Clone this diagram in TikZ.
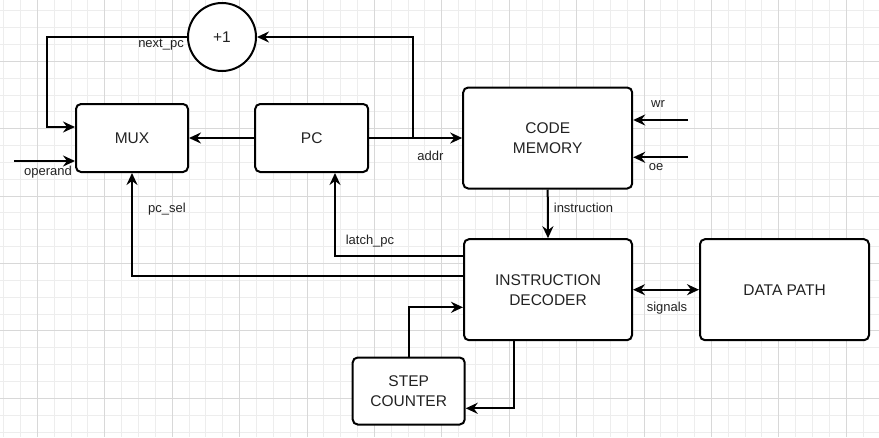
\documentclass[tikz,border=0pt]{standalone}
\usepackage{fontspec}
\setmainfont{Liberation Sans}
\usepackage{xcolor}
\usepackage{tikz}
\usetikzlibrary{arrows.meta}
\definecolor{gridminor}{HTML}{EDEDED}
\definecolor{gridmajor}{HTML}{D8D8D8}
\definecolor{txt}{HTML}{222222}

\begin{document}
\begin{tikzpicture}[x=1pt,y=-1pt,
    block/.style={draw=black,line width=2pt,rounded corners=5pt,fill=white,align=center,text=txt,inner sep=0pt,font=\fontsize{15.5}{20}\selectfont},
    sig/.style={text=txt,inner sep=0pt,font=\fontsize{13}{15}\selectfont},
    wire/.style={line width=2pt,-{Stealth[length=12pt,width=11pt,inset=4pt]}},
    bus/.style={line width=2pt,{Stealth[length=12pt,width=11pt,inset=4pt]}-{Stealth[length=12pt,width=11pt,inset=4pt]}}]
            \useasboundingbox (0,0) rectangle (879,437);
            \fill[white] (0,0) rectangle (879,437);
            \foreach \i in {0,...,51} \draw[gridminor,line width=1pt] ({3.7+16.85*\i},0) -- ++(0,437);
            \foreach \i in {0,...,25} \draw[gridminor,line width=1pt] (0,{10.75+16.85*\i}) -- ++(879,0);
            \foreach \i in {0,...,12} \draw[gridmajor,line width=1pt] ({37.4+67.4*\i},0) -- ++(0,437);
            \foreach \i in {0,...,5} \draw[gridmajor,line width=1pt] (0,{61.3+67.4*\i}) -- ++(879,0);

            \node[block,minimum width=112pt,minimum height=68pt] (mux) at (132,138) {MUX};
            \node[block,minimum width=113pt,minimum height=68pt] (pc) at (311.7,138) {PC};
            \node[block,circle,minimum size=68pt] (inc) at (222,37) {+1};
            \node[block,minimum width=169pt,minimum height=101pt] (codemem) at (547.7,138) {CODE\\MEMORY};
            \node[block,minimum width=168pt,minimum height=101pt] (decoder) at (548,289.7) {INSTRUCTION\\DECODER};
            \node[block,minimum width=169pt,minimum height=101pt] (datapath) at (784.5,289.7) {DATA PATH};
            \node[block,minimum width=112pt,minimum height=67pt] (stepcnt) at (408.7,391) {STEP\\COUNTER};

            \coordinate (tap) at (413,138);
            \coordinate (nextrow) at (47,127);
            \coordinate (opin) at (14,161);
            \coordinate (latchcol) at (335,255.5);
            \coordinate (selrow) at (0,276);
            \coordinate (wrin) at (688,120);
            \coordinate (oein) at (688,157.3);
            \coordinate (stepin) at (0,307.3);
            \coordinate (stepret) at (514,408.3);

            \draw[wire] (pc.west) -- (mux.east);
            \draw[wire] (pc.east) -- (codemem.west);
            \draw[wire] (tap) |- (inc.east);
            \draw[wire] (inc.west) -| (nextrow) -- (nextrow -| mux.west);
            \draw[wire] (opin) -- (opin -| mux.west);
            \draw[wire] (decoder.west |- latchcol) -- (latchcol) -- (latchcol |- pc.south);
            \draw[wire] (decoder.west |- selrow) -| (mux.south);
            \draw[wire] (codemem.south) -- (decoder.north);
            \draw[wire] (wrin) -- (wrin -| codemem.east);
            \draw[wire] (oein) -- (oein -| codemem.east);
            \draw[bus] (decoder.east) -- (datapath.west);
            \draw[wire] (stepcnt.north) |- (decoder.west |- stepin);
            \draw[wire] (decoder.south -| stepret) |- (stepret -| stepcnt.east);

            \node[sig,anchor=east] (lnext) at (184,45) {next\_pc};
            \node[sig] (lop) at (48,172) {operand};
            \node[sig] (laddr) at (430.5,156) {addr};
            \node[sig] (lsel) at (167,209) {pc\_sel};
            \node[sig] (llatch) at (370,241) {latch\_pc};
            \node[sig] (linstr) at (583.5,208) {instruction};
            \node[sig] (lwr) at (658,104) {wr};
            \node[sig] (loe) at (656,167) {oe};
            \node[sig] (lsignals) at (667,308) {signals};
        \end{tikzpicture}
\end{document}
